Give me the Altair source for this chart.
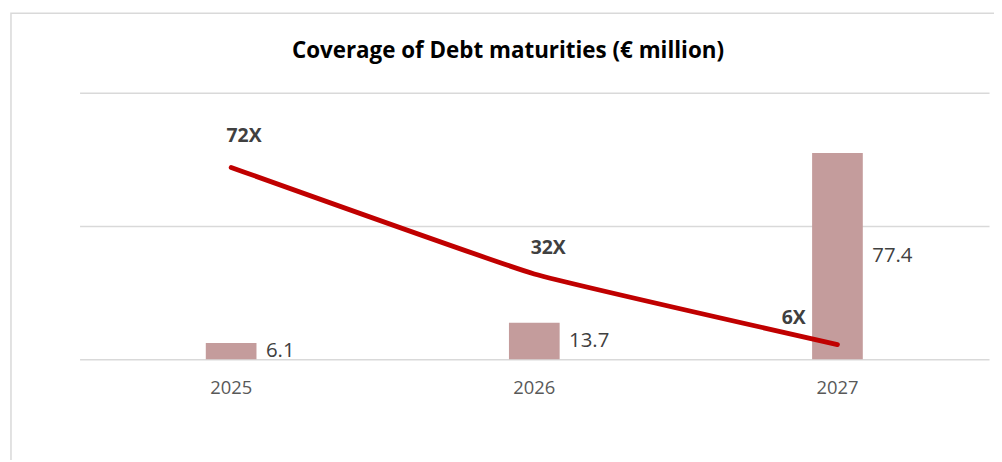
import altair as alt
import pandas as pd

years = ["2025", "2026", "2027"]
debt_maturities = [6.1, 13.7, 77.4]
coverage = [72, 32, 5.5]
coverage_labels = ["72X", "32X", "6X"]
bar_labels = ["6.1", "13.7", "77.4"]
title_text = "Coverage of Debt maturities (€ million)"

df = pd.DataFrame({
    "year": years,
    "debt": debt_maturities,
    "cov": coverage,
    "cov_label": coverage_labels,
    "bar_label": bar_labels,
})

FONT = "Open Sans"
x_enc = alt.X("year:N", sort=years,
              scale=alt.Scale(paddingInner=0, paddingOuter=0),
              axis=alt.Axis(title=None, labelAngle=0, ticks=False, tickSize=0, domain=False,
                            labelFont=FONT, labelFontSize=18.5, labelColor="#595959",
                            labelPadding=19))
y_scale = alt.Scale(domain=[0, 100], nice=False)

base = alt.Chart(df)

bars = base.mark_bar(size=51, color="#C49C9C").encode(
    x=x_enc,
    y=alt.Y("debt:Q", scale=y_scale,
            axis=alt.Axis(title=None, labels=False, ticks=False, domain=False,
                          values=[0, 50, 100], grid=True, gridColor="#d9d9d9",
                          gridWidth=1.5)),
)

bar_text = base.transform_calculate(mid="datum.debt / 2").mark_text(
    align="left", baseline="middle", dx=35, font=FONT, fontSize=20.5, color="#404040"
).encode(
    x=alt.X("year:N", sort=years),
    y=alt.Y("mid:Q", scale=y_scale),
    text="bar_label:N",
)

line = base.mark_line(color="#C00000", strokeWidth=4.8, strokeCap="round",
                      interpolate="cardinal", tension=0.7).encode(
    x=alt.X("year:N", sort=years),
    y=alt.Y("cov:Q", scale=y_scale),
)

def cov_text(year, dx, dy):
    return base.transform_filter(alt.datum.year == year).mark_text(
        align="center", baseline="middle", dx=dx, dy=dy, font=FONT,
        fontSize=19.5, fontWeight="bold", color="#404040"
    ).encode(
        x=alt.X("year:N", sort=years),
        y=alt.Y("cov:Q", scale=y_scale),
        text="cov_label:N",
    )

lbl1 = cov_text("2025", 13, -32)
lbl2 = cov_text("2026", 14, -26)
lbl3 = cov_text("2027", -44, -27)

deco = alt.Chart(pd.DataFrame({"t": [title_text]}))

frame = deco.mark_rect(
    fill="transparent", stroke="#d9d9d9", strokeWidth=1.5, clip=False
).encode(
    x=alt.value(-69), x2=alt.value(940),
    y=alt.value(-80), y2=alt.value(500),
)

title = deco.mark_text(
    align="center", baseline="middle", font=FONT, fontSize=22.5, fontWeight="bold",
    color="#000000"
).encode(
    x=alt.value(431), y=alt.value(-42), text="t:N",
)

chart = alt.layer(frame, title, bars, bar_text, line, lbl1, lbl2, lbl3).properties(
    width=915, height=268,
    background="white",
    autosize=alt.AutoSizeParams(type="none"),
    padding={"left": 72, "top": 84, "right": 5, "bottom": 100},
).configure_view(strokeWidth=0, stroke="transparent")

chart.save("out.html", embed_options={"renderer": "svg", "actions": False})
